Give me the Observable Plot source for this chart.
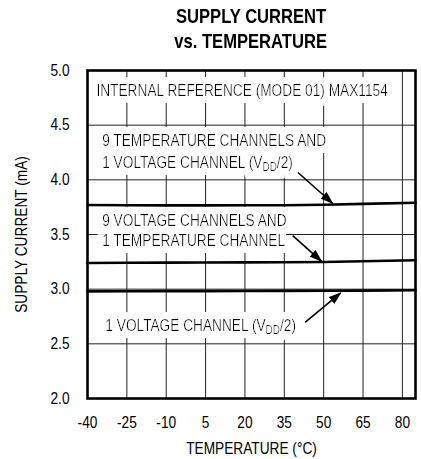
<!DOCTYPE html>
<html>
<head>
<meta charset="utf-8">
<script src="https://cdn.jsdelivr.net/npm/d3@7"></script>
<script src="https://cdn.jsdelivr.net/npm/@observablehq/plot@0.6"></script>
<style>
  html, body { margin: 0; padding: 0; background: #fff; }
  #title { margin-left: 87px; width: 328px; height: 56px; text-align: center;
    font-family: "Liberation Sans", Arial, sans-serif;
    font-weight: bold; font-size: 21px; line-height: 24.5px; padding-top: 4px; box-sizing: border-box; color: #000; }
  #title span { display: inline-block; transform: scaleX(0.79); white-space: nowrap; }
  svg { display: block; }
</style>
</head>
<body>
<div id="title"><span>SUPPLY CURRENT</span><br><span>vs. TEMPERATURE</span></div>
<div id="chart"></div>
<script>
const temps = [-40, -25, -10, 5, 20, 35, 50, 65, 85];
const seriesNames = ["9T+1V", "9V+1T", "1V"];
const current9T1V = [3.770, 3.768, 3.766, 3.766, 3.767, 3.768, 3.772, 3.780, 3.790];
const current9V1T = [3.240, 3.242, 3.243, 3.244, 3.245, 3.246, 3.248, 3.255, 3.265];
const current1V   = [2.980, 2.981, 2.982, 2.982, 2.983, 2.984, 2.985, 2.987, 2.990];
const xTicks = [-40, -25, -10, 5, 20, 35, 50, 65, 80];
const yTicks = [2.0, 2.5, 3.0, 3.5, 4.0, 4.5, 5.0];
const xGrid = [-25, -10, 5, 20, 35, 50, 65, 80];
const yGrid = [2.5, 3.0, 3.5, 4.0, 4.5];

const labelText = [
  "INTERNAL REFERENCE (MODE 01) MAX1154",
  "9 TEMPERATURE CHANNELS AND",
  "1 VOLTAGE CHANNEL (VDD/2)",
  "9 VOLTAGE CHANNELS AND",
  "1 TEMPERATURE CHANNEL",
  "1 VOLTAGE CHANNEL (VDD/2)"
];
const labelX = [-36.6, -34.4, -34.4, -34.4, -34.4, -33.2];
const labelY = [4.817, 4.36, 4.161, 3.628, 3.445, 2.667];

const arrowX1 = [40.2, 38.2, 42.9];
const arrowY1 = [4.067, 3.49, 2.697];
const arrowX2 = [53.4, 49.2, 56.5];
const arrowY2 = [3.786, 3.255, 2.966];

const seriesVals = [current9T1V, current9V1T, current1V];
const lineData = seriesNames.flatMap((s, i) => temps.map((t, j) => ({series: s, t, v: seriesVals[i][j]})));
const labels = labelText.map((text, i) => ({text, x: labelX[i], y: labelY[i]}));
const arrows = arrowX1.map((x1, i) => ({x1, y1: arrowY1[i], x2: arrowX2[i], y2: arrowY2[i]}));

const FONT = '"Liberation Sans", Arial, sans-serif';
const FS = 16.5;
const SQUEEZE = 0.83;

const chart = Plot.plot({
  width: 421,
  height: 403,
  marginLeft: 87,
  marginRight: 6,
  marginTop: 14,
  marginBottom: 61,
  style: {fontFamily: FONT, fontSize: FS + "px", color: "#000", background: "#fff"},
  x: {domain: [-40, 85]},
  y: {domain: [2, 5]},
  marks: [
    Plot.ruleX(xGrid, {stroke: "#222", strokeWidth: 1}),
    Plot.ruleY(yGrid, {stroke: "#222", strokeWidth: 1}),
    Plot.text(labels, {x: "x", y: "y", text: "text", textAnchor: "start", lineAnchor: "middle",
      fill: "black", fontSize: FS, className: "annot"}),
    Plot.line(lineData, {x: "t", y: "v", z: "series", stroke: "black", strokeWidth: 2.6}),
    Plot.link(arrows, {x1: "x1", y1: "y1", x2: "x2", y2: "y2", stroke: "black", strokeWidth: 1.6, className: "arrows"}),
    Plot.frame({stroke: "black", strokeWidth: 2.6}),
    Plot.axisX({ticks: xTicks, tickSize: 0, tickPadding: 18, tickFormat: d => String(d), fontSize: FS,
      label: "TEMPERATURE (°C)", labelAnchor: "center", labelArrow: "none", labelOffset: 55}),
    Plot.axisY({ticks: yTicks, tickSize: 0, tickPadding: 18, tickFormat: d3.format(".1f"), fontSize: FS,
      label: "SUPPLY CURRENT (mA)", labelAnchor: "center", labelArrow: "none", labelOffset: 72})
  ]
});

const ns = "http://www.w3.org/2000/svg";
const defs = document.createElementNS(ns, "defs");
// filled arrowheads
const marker = document.createElementNS(ns, "marker");
marker.setAttribute("id", "ahead");
marker.setAttribute("viewBox", "0 0 13 9");
marker.setAttribute("refX", "12");
marker.setAttribute("refY", "4.5");
marker.setAttribute("markerWidth", "13");
marker.setAttribute("markerHeight", "9");
marker.setAttribute("markerUnits", "userSpaceOnUse");
marker.setAttribute("orient", "auto");
const mp = document.createElementNS(ns, "path");
mp.setAttribute("d", "M0,0L13,4.5L0,9Z");
mp.setAttribute("fill", "black");
marker.appendChild(mp);
defs.appendChild(marker);
// white halo behind annotation text (hides the grid like the original's label boxes)
const filter = document.createElementNS(ns, "filter");
filter.setAttribute("id", "halo");
filter.setAttribute("x", "-8%"); filter.setAttribute("y", "-80%");
filter.setAttribute("width", "116%"); filter.setAttribute("height", "260%");
filter.innerHTML = '<feMorphology in="SourceAlpha" operator="dilate" radius="7" result="d"/>' +
  '<feFlood flood-color="white" result="f"/>' +
  '<feComposite in="f" in2="d" operator="in" result="w"/>' +
  '<feMerge><feMergeNode in="w"/><feMergeNode in="SourceGraphic"/></feMerge>';
defs.appendChild(filter);
chart.insertBefore(defs, chart.firstChild);
chart.querySelectorAll("g.arrows path").forEach(p => p.setAttribute("marker-end", "url(#ahead)"));

// subscript DD in VDD
chart.querySelectorAll("g.annot text").forEach(t => {
  if (t.textContent.includes("VDD")) {
    const parts = t.textContent.split("VDD");
    t.textContent = "";
    const a = document.createElementNS(ns, "tspan"); a.textContent = parts[0] + "V";
    const b = document.createElementNS(ns, "tspan"); b.textContent = "DD";
    b.setAttribute("font-size", "12"); b.setAttribute("dy", "3");
    const c = document.createElementNS(ns, "tspan"); c.textContent = parts[1];
    c.setAttribute("dy", "-3");
    t.append(a, b, c);
  }
  t.setAttribute("filter", "url(#halo)");
});

document.getElementById("chart").appendChild(chart);

// condensed look: squeeze every text horizontally about its anchor
chart.querySelectorAll("text").forEach(t => {
  const bb = t.getBBox();
  if (bb.width <= 0) return;
  const anchor = getComputedStyle(t).textAnchor;
  const ax = anchor === "middle" ? bb.x + bb.width / 2 : anchor === "end" ? bb.x + bb.width : bb.x;
  const prev = t.getAttribute("transform") || "";
  t.setAttribute("transform", `${prev} translate(${ax.toFixed(2)},0) scale(${SQUEEZE},1) translate(${(-ax).toFixed(2)},0)`.trim());
});
</script>
</body>
</html>
